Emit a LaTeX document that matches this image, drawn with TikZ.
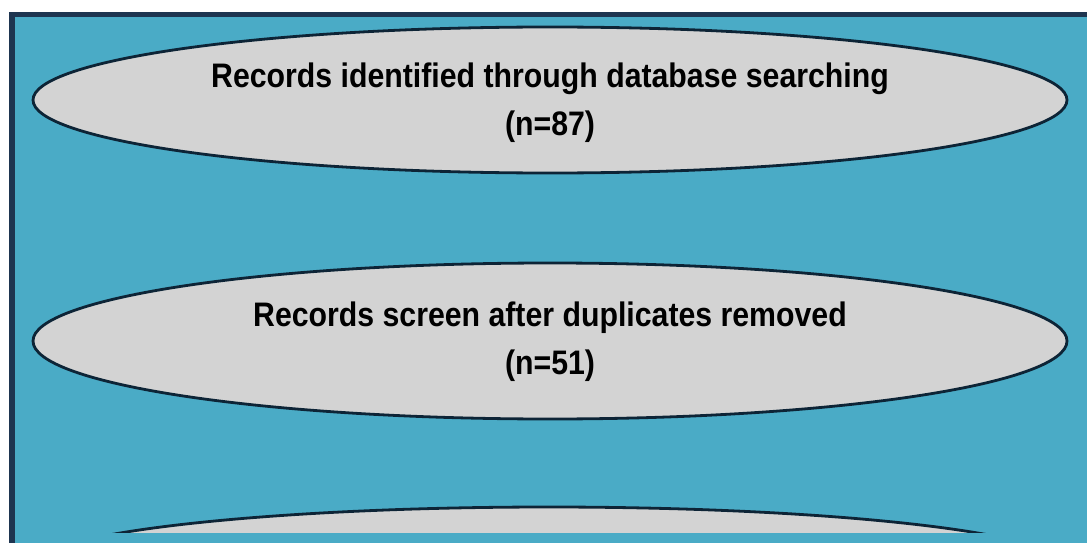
\documentclass[tikz,border=0pt]{standalone}
\usepackage{fontspec}
\setmainfont{Liberation Sans}[FakeStretch=0.89]
\usetikzlibrary{shapes.geometric}
\definecolor{bgblue}{HTML}{4AABC6}
\definecolor{frame}{HTML}{1E3550}
\definecolor{ellfill}{HTML}{D3D3D3}
\definecolor{ellline}{HTML}{0D2436}
\tikzset{
  rec/.style={ellipse, draw=ellline, line width=2.8pt, fill=ellfill, inner sep=0pt,
    minimum width=1034pt, minimum height=146pt},
  lbl/.style={inner sep=0pt, align=center,
    font=\bfseries\fontsize{34}{48}\selectfont}
}
\begin{document}
\begin{tikzpicture}[x=1pt,y=-1pt]
\useasboundingbox (0,0) rectangle (1087,543);
\begin{scope}
\clip (0,0) rectangle (1087,543);
\fill[white] (0,0) rectangle (1087,543);
\fill[frame] (9,12) rectangle (1100,560);
\fill[bgblue] (14.5,17) rectangle (1100,560);
\node[rec] (r1) at (550,100) {};
\node[rec, minimum height=156pt] (r2) at (550,341) {};
\node[rec, minimum height=118pt] (r3) at (549,566) {};
\fill[bgblue] (14.5,533) rectangle (1100,560);
\node[lbl] (t1) at (550,103) {Records identified through database searching\\(n=87)};
\node[lbl] (t2) at (550,342) {Records screen after duplicates removed\\(n=51)};
\end{scope}
\end{tikzpicture}
\end{document}
